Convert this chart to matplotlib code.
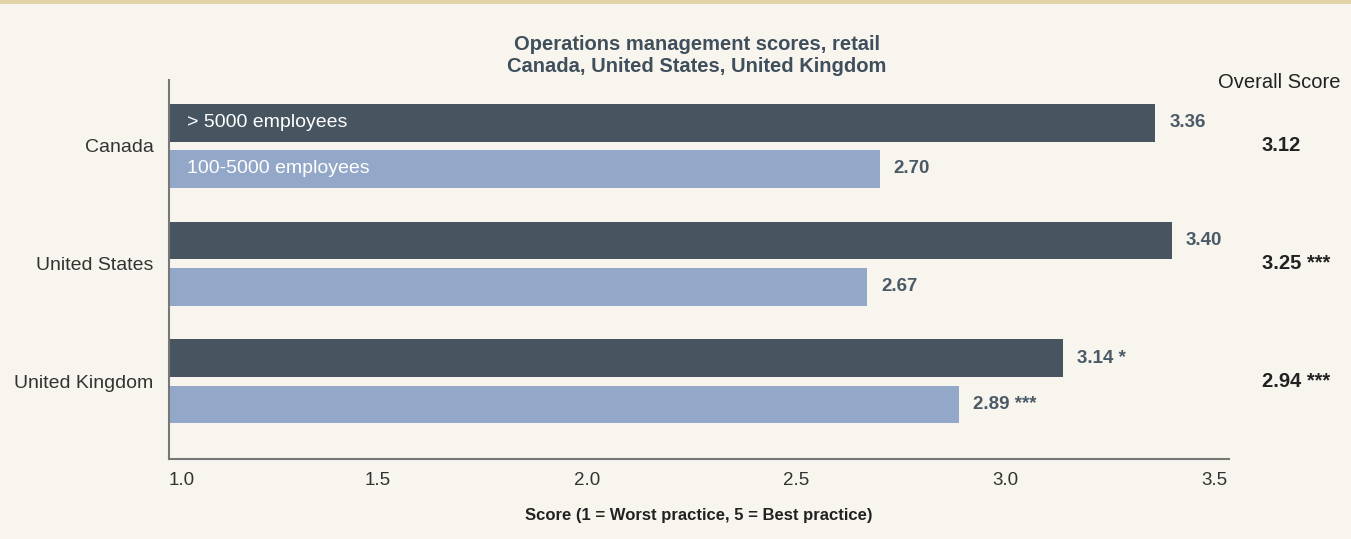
import matplotlib.pyplot as plt
import numpy as np
from matplotlib.transforms import blended_transform_factory

plt.rcParams['font.family'] = ['Liberation Sans', 'DejaVu Sans']

countries = ['Canada', 'United States', 'United Kingdom']
large = [3.36, 3.40, 3.14]
small = [2.70, 2.67, 2.89]
large_labels = ['3.36', '3.40', '3.14 *']
small_labels = ['2.70', '2.67', '2.89 ***']
overall = ['3.12', '3.25 ***', '2.94 ***']
series = ['> 5000 employees', '100-5000 employees']

bg = '#f8f5ee'
dark = '#465560'
light = '#93a8c8'
txt = '#4a5a66'

fig = plt.figure(figsize=(13.51, 5.39), dpi=100, facecolor=bg)
ax = fig.add_axes([0.1251, 0.1484, 0.7846, 0.7032], facecolor=bg)

y = np.arange(len(countries))
h = 0.32
off = 0.196
ax.barh(y - off, np.array(large) - 1.0, left=1.0, height=h, color=dark)
ax.barh(y + off, np.array(small) - 1.0, left=1.0, height=h, color=light)

for i in range(len(countries)):
    ax.annotate(large_labels[i], (large[i], y[i] - off), xytext=(10, 0),
                textcoords='offset points', va='center', ha='left',
                fontsize=13.5, color=txt, fontweight='bold')
    ax.annotate(small_labels[i], (small[i], y[i] + off), xytext=(10, 0),
                textcoords='offset points', va='center', ha='left',
                fontsize=13.5, color=txt, fontweight='bold')

# series names inside the first group
ax.annotate(series[0], (1.0, y[0] - off), xytext=(13, 0), textcoords='offset points',
            va='center', ha='left', fontsize=14, color='white')
ax.annotate(series[1], (1.0, y[0] + off), xytext=(13, 0), textcoords='offset points',
            va='center', ha='left', fontsize=14, color='white')

# overall score column
tr = blended_transform_factory(fig.transFigure, ax.transData)
for i in range(len(countries)):
    ax.text(0.934, y[i], overall[i], transform=tr, va='center', ha='left',
            fontsize=14.5, fontweight='bold', color='#222222')
fig.text(0.947, 1 - 82 / 539, 'Overall Score', ha='center', va='center',
         fontsize=14.5, color='#222222')

ax.set_xlim(1.0, 3.536)
ax.set_ylim(2.66, -0.56)
ax.set_xticks([1.0, 1.5, 2.0, 2.5, 3.0, 3.5])
ax.set_xticklabels(['1.0', '1.5', '2.0', '2.5', '3.0', '3.5'])
ax.get_xticklabels()[0].set_ha('left')
ax.set_yticks(y)
ax.set_yticklabels(countries)
ax.tick_params(axis='both', length=0, colors='#333333')
ax.tick_params(axis='x', pad=9, labelsize=13.5)
ax.tick_params(axis='y', pad=11, labelsize=14)

for s in ['top', 'right']:
    ax.spines[s].set_visible(False)
for s in ['left', 'bottom']:
    ax.spines[s].set_color('#777777')
    ax.spines[s].set_linewidth(1.5)

ax.set_xlabel('Score (1 = Worst practice, 5 = Best practice)', fontsize=12,
              fontweight='bold', color='#222222', labelpad=14)

fig.text(0.516, 1 - 45 / 539, 'Operations management scores, retail', ha='center',
         va='center', fontsize=14.5, fontweight='bold', color='#3f4f5c')
fig.text(0.516, 1 - 66 / 539, 'Canada, United States, United Kingdom', ha='center',
         va='center', fontsize=14.5, fontweight='bold', color='#3f4f5c')

# tan rule along the top edge
fig.add_artist(plt.Rectangle((0, 1 - 4 / 539), 1, 4 / 539, transform=fig.transFigure,
                             color='#e3d3a8', lw=0))

fig.savefig('out.png', dpi=100, facecolor=bg)
